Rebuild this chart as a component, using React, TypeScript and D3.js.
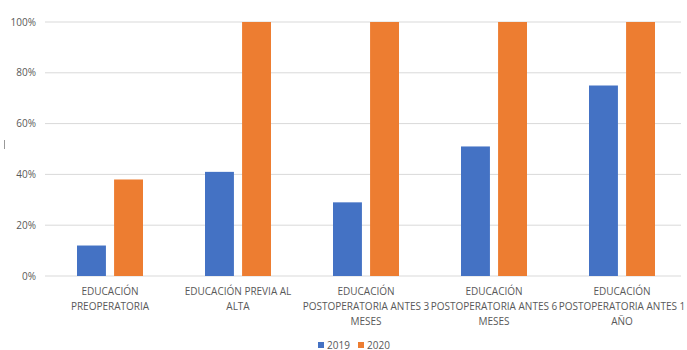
import React from "react";
import * as d3 from "d3";

const categories = [
  "EDUCACIÓN PREOPERATORIA",
  "EDUCACIÓN PREVIA AL ALTA",
  "EDUCACIÓN POSTOPERATORIA ANTES 3 MESES",
  "EDUCACIÓN POSTOPERATORIA ANTES 6 MESES",
  "EDUCACIÓN POSTOPERATORIA ANTES 1 AÑO",
];
const categoryLines = [
  ["EDUCACIÓN", "PREOPERATORIA"],
  ["EDUCACIÓN PREVIA AL", "ALTA"],
  ["EDUCACIÓN", "POSTOPERATORIA ANTES 3", "MESES"],
  ["EDUCACIÓN", "POSTOPERATORIA ANTES 6", "MESES"],
  ["EDUCACIÓN", "POSTOPERATORIA ANTES 1", "AÑO"],
];
const seriesNames = ["2019", "2020"];
const values2019 = [0.12, 0.41, 0.29, 0.51, 0.75];
const values2020 = [0.38, 1.0, 1.0, 1.0, 1.0];
const yTicks = [0, 0.2, 0.4, 0.6, 0.8, 1.0];
const colors = ["#4472C4", "#ED7D31"];

const W = 687;
const H = 350;
const left = 46;
const right = 686;
const top = 22;
const bottom = 276;
const font = "'Open Sans', 'Liberation Sans', sans-serif";
const textColor = "#595959";

export default function App() {
  const x = d3.scaleBand<string>().domain(categories).range([left, right]);
  const y = d3.scaleLinear().domain([0, 1]).range([bottom, top]);
  const inner = d3.scaleBand<string>().domain(seriesNames).range([0, 66]).paddingInner(0.22);
  const series = [values2019, values2020];
  const fmt = d3.format(".0%");

  return (
    <svg width={W} height={H} style={{ position: "absolute", left: 0, top: 0, background: "#fff" }}>
      <rect x={0} y={0} width={W} height={H} fill="#fff" />
      {yTicks.map((t) => (
        <g key={t}>
          <line x1={45} x2={681} y1={y(t)} y2={y(t)} stroke="#D9D9D9" strokeWidth={1} />
          <text x={36} y={y(t)} dy="0.35em" textAnchor="end" fontSize={10} fill={textColor} fontFamily={font}>
            {fmt(t)}
          </text>
        </g>
      ))}
      <line x1={4.5} x2={4.5} y1={140} y2={149} stroke="#999" strokeWidth={1} />
      {categories.map((c, i) => {
        const cx = (x(c) as number) + x.bandwidth() / 2;
        const gx = cx - 33;
        return (
          <g key={c}>
            {series.map((vals, s) => (
              <rect
                key={s}
                x={gx + (inner(seriesNames[s]) as number)}
                y={y(vals[i])}
                width={inner.bandwidth()}
                height={bottom - y(vals[i])}
                fill={colors[s]}
              />
            ))}
            {categoryLines[i].map((ln, k) => (
              <text key={k} x={cx} y={295 + k * 15} textAnchor="middle" fontSize={10} fill={textColor} fontFamily={font}>
                {ln}
              </text>
            ))}
          </g>
        );
      })}
      {seriesNames.map((n, s) => (
        <g key={n} transform={`translate(${318 + s * 40},0)`}>
          <rect x={0} y={342} width={6} height={6} fill={colors[s]} />
          <text x={9} y={345} dy="0.35em" fontSize={10} fill={textColor} fontFamily={font}>
            {n}
          </text>
        </g>
      ))}
    </svg>
  );
}
